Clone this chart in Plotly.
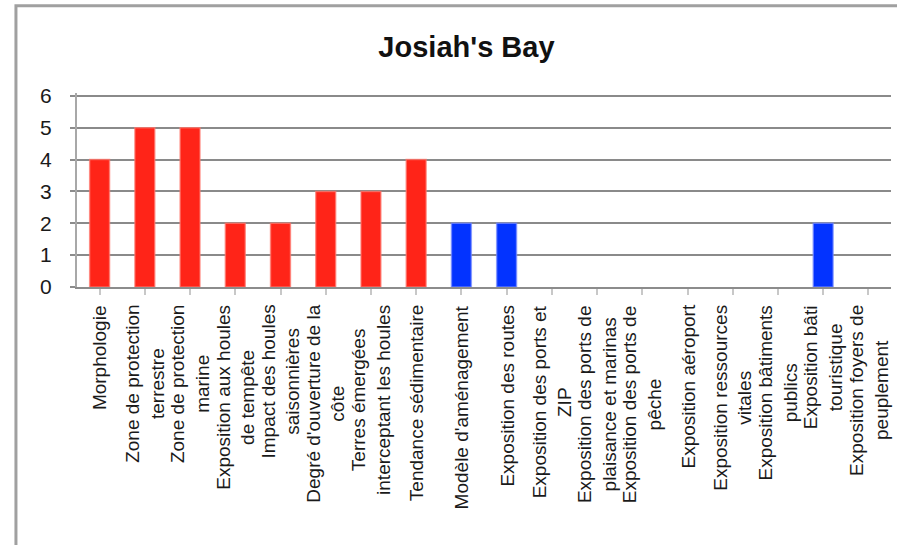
import plotly.graph_objects as go

title = "Josiah's Bay"
categories = [
    "Morphologie",
    "Zone de protection<br>terrestre",
    "Zone de protection<br>marine",
    "Exposition aux houles<br>de tempête",
    "Impact des houles<br>saisonnières",
    "Degré d'ouverture de la<br>côte",
    "Terres émergées<br>interceptant les houles",
    "Tendance sédimentaire",
    "Modèle d'aménagement",
    "Exposition des routes",
    "Exposition des ports et<br>ZIP",
    "Exposition des ports de<br>plaisance et marinas",
    "Exposition des ports de<br>pêche",
    "Exposition aéroport",
    "Exposition ressources<br>vitales",
    "Exposition bâtiments<br>publics",
    "Exposition bâti<br>touristique",
    "Exposition foyers de<br>peuplement",
]
values = [4, 5, 5, 2, 2, 3, 3, 4, 2, 2, 0, 0, 0, 0, 0, 0, 2, 0]
groups = ["hazard"] * 8 + ["exposure"] * 10
y_ticks = [0, 1, 2, 3, 4, 5, 6]

colors = {"hazard": "#ff2418", "exposure": "#0333ff"}
edge = {"hazard": "rgba(255,120,110,0.7)", "exposure": "rgba(120,140,255,0.7)"}
font_family = "Liberation Sans, Arial, sans-serif"

fig = go.Figure()
fig.add_trace(go.Bar(
    x=list(range(len(categories))),
    y=values,
    marker=dict(color=[colors[g] for g in groups],
                line=dict(color=[edge[g] for g in groups],
                          width=[1.5 if v > 0 else 0 for v in values])),
    showlegend=False,
    hoverinfo="skip",
))

# category labels, centred line by line, below the axis
for i, c in enumerate(categories):
    fig.add_annotation(
        x=i, xref="x", y=0, yref="paper",
        text=c, textangle=-90, showarrow=False,
        xanchor="center", yanchor="top", align="center",
        yshift=-16,
        font=dict(family=font_family, size=19, color="#1a1a1a"),
    )

fig.update_layout(
    width=897, height=545,
    margin=dict(l=77, r=6, t=93, b=258),
    paper_bgcolor="white", plot_bgcolor="white",
    bargap=0.56,
    title=dict(text=title, x=0.52, xref="container", xanchor="center",
               y=0.914, yref="container", yanchor="middle",
               font=dict(family=font_family, size=29, color="#111111",
                         weight="bold")),
    xaxis=dict(
        range=[-0.5, len(categories) - 0.5],
        tickmode="array", tickvals=list(range(len(categories))),
        showticklabels=False,
        ticks="outside", tickson="boundaries", ticklen=6,
        tickcolor="#c8c8c8", tickwidth=2,
        showline=True, linecolor="#8c8c8c", linewidth=2,
        showgrid=False, zeroline=False,
    ),
    yaxis=dict(
        range=[0, 6.09], tickvals=y_ticks,
        ticks="outside", ticklen=5, tickcolor="#8c8c8c", tickwidth=2,
        ticklabelstandoff=14,
        showline=True, linecolor="#a8a8a8", linewidth=2,
        showgrid=True, gridcolor="#8a8a8a", gridwidth=2,
        zeroline=False,
        tickfont=dict(family=font_family, size=21, color="#1a1a1a"),
    ),
    shapes=[dict(type="rect", xref="paper", yref="paper",
                 x0=-0.075, x1=1.2, y0=-2.0, y1=1.450,
                 line=dict(color="#a0a0a0", width=3), layer="below")],
)

fig.write_html(
    "out.html",
    config={"displayModeBar": False, "staticPlot": True},
    post_script="document.body.style.margin='0';document.body.style.overflow='hidden';",
)
